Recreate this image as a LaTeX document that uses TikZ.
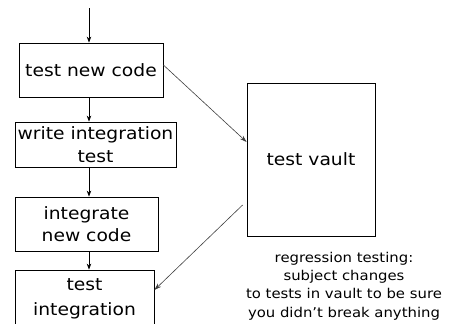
\documentclass[tikz,border=0pt]{standalone}
\usepackage{fontspec}
\setmainfont{DejaVu Sans}[FakeStretch=1.1]
\usetikzlibrary{arrows.meta}
\begin{document}
\begin{tikzpicture}[x=1pt,y=-1pt,
  stepbox/.style={draw=black,line width=0.8pt,inner sep=0pt,align=center,
    font=\fontsize{17}{22.5}\selectfont},
  flow/.style={draw=black,line width=0.8pt,-{Stealth[length=6pt,width=4.5pt]}},
  diag/.style={draw=black!75,line width=0.6pt,-{Stealth[length=7pt,width=4.5pt]}},
  note/.style={align=center,font=\fontsize{13.5}{18.3}\selectfont}]
\useasboundingbox (0,0) rectangle (467,324);
\begin{scope}
\clip (0,0) rectangle (467,324);
\node[stepbox,minimum width=144pt,minimum height=54pt] (b1) at (91,70) {test new code};
\node[stepbox,minimum width=161pt,minimum height=45pt] (b2) at (95.5,144.5) {write integration\\test};
\node[stepbox,minimum width=143pt,minimum height=54pt] (b3) at (86.5,224) {integrate\\new code};
\node[stepbox,minimum width=139pt,minimum height=76pt,text depth=22pt,
  font=\fontsize{17}{25}\selectfont] (b4) at (84.5,308) {test\\integration};
\node[stepbox,minimum width=128pt,minimum height=153pt] (v) at (311,159.5) {test vault};
\node[note] (n) at (344,286) {regression testing:\\subject changes\\to tests in vault to be sure\\you didn’t break anything};
\coordinate (top) at (89,8);
\coordinate (x) at (89,0);
\draw[flow] (top) -- (top |- b1.north);
\draw[flow] (b1.south -| x) -- (b2.north -| x);
\draw[flow] (b2.south -| x) -- (b3.north -| x);
\draw[flow] (b3.south -| x) -- (b4.north -| x);
\draw[diag] ([yshift=5pt]b1.east) -- ([yshift=17.5pt]v.west);
\draw[diag] ([xshift=-4pt,yshift=-45.5pt]v.west) -- ([yshift=18pt]b4.east);
\end{scope}
\end{tikzpicture}
\end{document}
